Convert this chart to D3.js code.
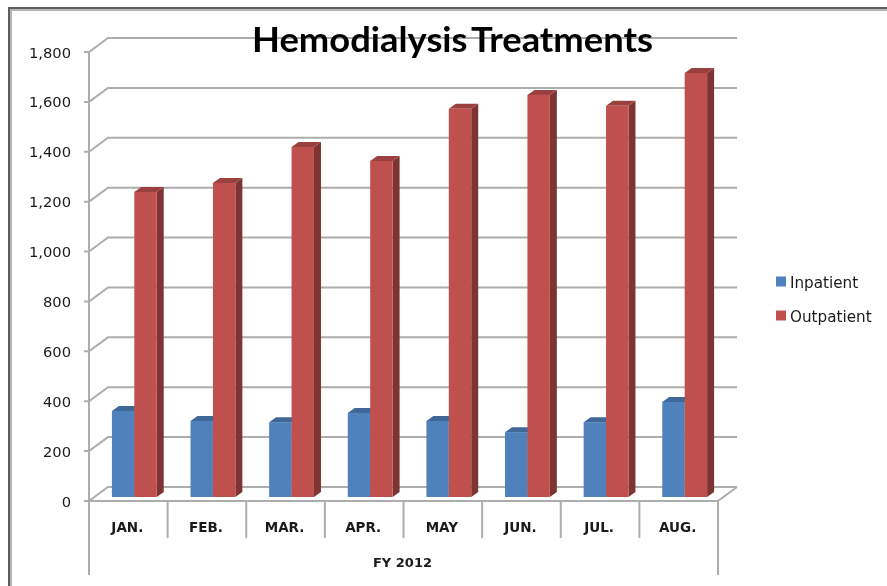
<!DOCTYPE html>
<html>
<head>
<meta charset="utf-8">
<script src="https://cdn.jsdelivr.net/npm/d3@7"></script>
<style>
    html, body { margin: 0; padding: 0; background: #fff; overflow: hidden; }
    svg { display: block; filter: blur(0.45px); }
</style>
</head>
<body>
<div id="chart"></div>
<script>
// data
const months = ["JAN.", "FEB.", "MAR.", "APR.", "MAY", "JUN.", "JUL.", "AUG."];
const seriesNames = ["Inpatient", "Outpatient"];
const inpatient = [345, 305, 300, 337, 305, 260, 300, 381];
const outpatient = [1223, 1259, 1403, 1347, 1556, 1612, 1568, 1700];
const yTicks = [0, 200, 400, 600, 800, 1000, 1200, 1400, 1600, 1800];
const groupLabel = "FY 2012";
const titleText = "Hemodialysis Treatments";

// chart parameters
const width = 887, height = 586;
const plot = { left: 89, right: 718, top: 52, bottom: 501 };
const wall = { dx: 19, dy: -14 };   // back wall offset from the front edge
const barPlane = { dx: 6, dy: -4 }; // front face of the bars
const barDepth = { dx: 7, dy: -5 };
const colors = {
    Inpatient: { front: "#4f81bd", top: "#3f6797", side: "#375a85" },
    Outpatient: { front: "#c0504d", top: "#9a403e", side: "#7d3432" }
};
const gridColor = "#adadad";

let svg = d3.select("#chart").append("svg")
    .attr("width", width).attr("height", height);

// window frame
svg.append("path")
    .attr("d", `M9,${height}V8H${width}`)
    .attr("fill", "none").attr("stroke", "#5e5e5e").attr("stroke-width", 2);
svg.append("path")
    .attr("d", `M11,${height}V10H${width}`)
    .attr("fill", "none").attr("stroke", "#b4b4b4").attr("stroke-width", 2);

/* scales */
let yScale = d3.scaleLinear().domain([0, 1800]).range([plot.bottom, plot.top]);
let xScale = d3.scaleBand().domain(months).range([plot.left, plot.right]);
let xBars = d3.scaleBand().domain(months)
    .range([plot.left + barPlane.dx, plot.right + barPlane.dx])
    .paddingInner(0.43).paddingOuter(0.215);
let xSeries = d3.scaleBand().domain(seriesNames).range([0, xBars.bandwidth()]);

/* walls and gridlines */
let grid = svg.append("g").attr("fill", "none").attr("stroke", gridColor).attr("stroke-width", 2);
yTicks.forEach(t => {
    let y = yScale(t);
    grid.append("path")
        .attr("d", `M${plot.left - 5},${y}H${plot.left}L${plot.left + wall.dx},${y + wall.dy}H${plot.right + wall.dx}`);
});
grid.append("path")
    .attr("d", `M${plot.left},${plot.top}V575`);
grid.append("path")
    .attr("d", `M${plot.left},${plot.bottom}H${plot.right}L${plot.right + wall.dx},${plot.bottom + wall.dy}`);
grid.append("path")
    .attr("d", `M${plot.right},${plot.bottom}V575`);
months.slice(1).forEach(m => {
    grid.append("path").attr("d", `M${xScale(m)},${plot.bottom}V538`);
});

/* bars: outpatient sits in front of inpatient's side face, so draw in series order */
let barData = [];
months.forEach((m, i) => {
    barData.push({ month: m, name: "Inpatient", value: inpatient[i] });
    barData.push({ month: m, name: "Outpatient", value: outpatient[i] });
});

let bars = svg.selectAll(".bar").data(barData).enter().append("g").attr("class", "bar");
let bx = d => xBars(d.month) + xSeries(d.name);
let by = d => yScale(d.value) + barPlane.dy;
let bw = xSeries.bandwidth();
let by0 = yScale(0) + barPlane.dy;

bars.append("path")
    .attr("fill", d => colors[d.name].side)
    .attr("d", d => `M${bx(d) + bw},${by(d)}l${barDepth.dx},${barDepth.dy}V${by0 + barDepth.dy}l${-barDepth.dx},${-barDepth.dy}Z`);
bars.append("path")
    .attr("fill", d => colors[d.name].top)
    .attr("d", d => `M${bx(d)},${by(d)}l${barDepth.dx},${barDepth.dy}h${bw}l${-barDepth.dx},${-barDepth.dy}Z`);
bars.append("rect")
    .attr("x", bx)
    .attr("y", by)
    .attr("width", bw)
    .attr("height", d => by0 - by(d))
    .attr("fill", d => colors[d.name].front);

/* text */
svg.append("g").selectAll("text").data(yTicks).enter().append("text")
    .attr("x", 71)
    .attr("y", d => yScale(d) + 5.5)
    .attr("text-anchor", "end")
    .attr("font-family", "DejaVu Sans")
    .attr("font-size", 14.7)
    .attr("fill", "#1a1a1a")
    .text(d => d3.format(",")(d));

svg.append("g").selectAll("text").data(months).enter().append("text")
    .attr("x", d => xScale(d) + xScale.bandwidth() / 2 - 1)
    .attr("y", 532)
    .attr("text-anchor", "middle")
    .attr("font-family", "DejaVu Sans")
    .attr("font-weight", "bold")
    .attr("font-size", 13.5)
    .attr("fill", "#1a1a1a")
    .text(d => d);

svg.append("text")
    .attr("x", (plot.left + plot.right) / 2 - 1)
    .attr("y", 567)
    .attr("text-anchor", "middle")
    .attr("font-family", "DejaVu Sans")
    .attr("font-weight", "bold")
    .attr("font-size", 13)
    .attr("fill", "#1a1a1a")
    .text(groupLabel);

svg.append("text")
    .attr("x", 252)
    .attr("y", 52)
    .attr("textLength", 401)
    .attr("lengthAdjust", "spacingAndGlyphs")
    .attr("font-family", "Lato")
    .attr("font-weight", "bold")
    .attr("font-size", 34)
    .attr("word-spacing", -4)
    .attr("fill", "#000")
    .text(titleText);

/* legend */
let legendY = d3.scalePoint().domain(seriesNames).range([281.5, 315.5]);
let legend = svg.append("g").selectAll("g").data(seriesNames).enter().append("g");
legend.append("rect")
    .attr("x", 776)
    .attr("y", d => legendY(d) - 5)
    .attr("width", 10).attr("height", 10)
    .attr("fill", d => colors[d].front);
legend.append("text")
    .attr("x", 790)
    .attr("y", d => legendY(d) + 6.5)
    .attr("font-family", "DejaVu Sans")
    .attr("font-size", 15.2)
    .attr("fill", "#1a1a1a")
    .text(d => d);
</script>
</body>
</html>
